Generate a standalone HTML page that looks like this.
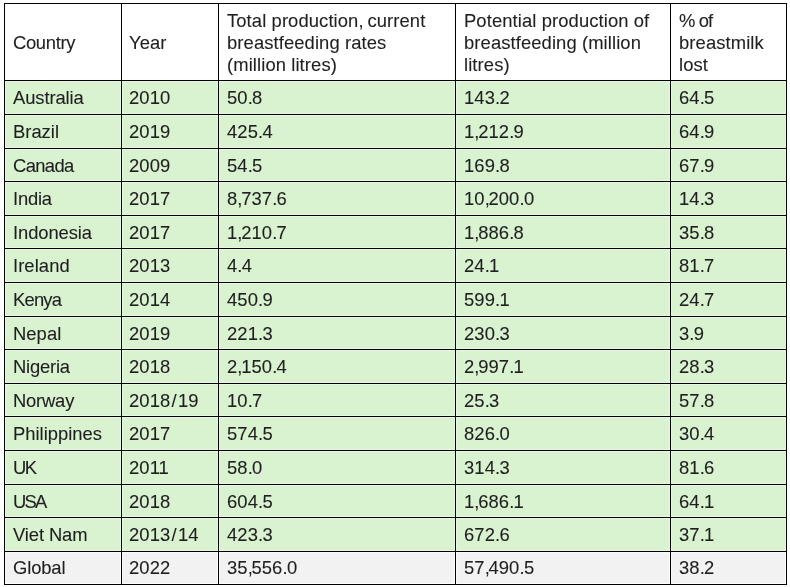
<!DOCTYPE html>
<html><head><meta charset="utf-8"><style>
html,body{margin:0;padding:0;background:#fff;}
body{width:790px;height:587px;position:relative;overflow:hidden;}
.c,.l,.t{position:absolute;}
.l{background:#000;}
.t{font-family:"Liberation Sans",sans-serif;font-size:18.4px;line-height:20px;color:#1f1f1f;white-space:pre;will-change:transform;-webkit-text-stroke:0.1px #1f1f1f;letter-spacing:0.1px;}
.t i{font-style:normal;}
.cm{letter-spacing:-1.3px;}
.pm{letter-spacing:-0.7px;}
.sl{padding:0 1.25px;}
</style></head><body>
<div class="c" style="left:5px;top:81px;width:116px;height:33px;background:#d9f2d0;box-shadow:inset 0 0 0 1px #e6f8df"></div>
<div class="c" style="left:122px;top:81px;width:96px;height:33px;background:#d9f2d0;box-shadow:inset 0 0 0 1px #e6f8df"></div>
<div class="c" style="left:219px;top:81px;width:236px;height:33px;background:#d9f2d0;box-shadow:inset 0 0 0 1px #e6f8df"></div>
<div class="c" style="left:456px;top:81px;width:214px;height:33px;background:#d9f2d0;box-shadow:inset 0 0 0 1px #e6f8df"></div>
<div class="c" style="left:671px;top:81px;width:115px;height:33px;background:#d9f2d0;box-shadow:inset 0 0 0 1px #e6f8df"></div>
<div class="c" style="left:5px;top:115px;width:116px;height:33px;background:#d9f2d0;box-shadow:inset 0 0 0 1px #e6f8df"></div>
<div class="c" style="left:122px;top:115px;width:96px;height:33px;background:#d9f2d0;box-shadow:inset 0 0 0 1px #e6f8df"></div>
<div class="c" style="left:219px;top:115px;width:236px;height:33px;background:#d9f2d0;box-shadow:inset 0 0 0 1px #e6f8df"></div>
<div class="c" style="left:456px;top:115px;width:214px;height:33px;background:#d9f2d0;box-shadow:inset 0 0 0 1px #e6f8df"></div>
<div class="c" style="left:671px;top:115px;width:115px;height:33px;background:#d9f2d0;box-shadow:inset 0 0 0 1px #e6f8df"></div>
<div class="c" style="left:5px;top:149px;width:116px;height:32px;background:#d9f2d0;box-shadow:inset 0 0 0 1px #e6f8df"></div>
<div class="c" style="left:122px;top:149px;width:96px;height:32px;background:#d9f2d0;box-shadow:inset 0 0 0 1px #e6f8df"></div>
<div class="c" style="left:219px;top:149px;width:236px;height:32px;background:#d9f2d0;box-shadow:inset 0 0 0 1px #e6f8df"></div>
<div class="c" style="left:456px;top:149px;width:214px;height:32px;background:#d9f2d0;box-shadow:inset 0 0 0 1px #e6f8df"></div>
<div class="c" style="left:671px;top:149px;width:115px;height:32px;background:#d9f2d0;box-shadow:inset 0 0 0 1px #e6f8df"></div>
<div class="c" style="left:5px;top:182px;width:116px;height:33px;background:#d9f2d0;box-shadow:inset 0 0 0 1px #e6f8df"></div>
<div class="c" style="left:122px;top:182px;width:96px;height:33px;background:#d9f2d0;box-shadow:inset 0 0 0 1px #e6f8df"></div>
<div class="c" style="left:219px;top:182px;width:236px;height:33px;background:#d9f2d0;box-shadow:inset 0 0 0 1px #e6f8df"></div>
<div class="c" style="left:456px;top:182px;width:214px;height:33px;background:#d9f2d0;box-shadow:inset 0 0 0 1px #e6f8df"></div>
<div class="c" style="left:671px;top:182px;width:115px;height:33px;background:#d9f2d0;box-shadow:inset 0 0 0 1px #e6f8df"></div>
<div class="c" style="left:5px;top:216px;width:116px;height:32px;background:#d9f2d0;box-shadow:inset 0 0 0 1px #e6f8df"></div>
<div class="c" style="left:122px;top:216px;width:96px;height:32px;background:#d9f2d0;box-shadow:inset 0 0 0 1px #e6f8df"></div>
<div class="c" style="left:219px;top:216px;width:236px;height:32px;background:#d9f2d0;box-shadow:inset 0 0 0 1px #e6f8df"></div>
<div class="c" style="left:456px;top:216px;width:214px;height:32px;background:#d9f2d0;box-shadow:inset 0 0 0 1px #e6f8df"></div>
<div class="c" style="left:671px;top:216px;width:115px;height:32px;background:#d9f2d0;box-shadow:inset 0 0 0 1px #e6f8df"></div>
<div class="c" style="left:5px;top:249px;width:116px;height:33px;background:#d9f2d0;box-shadow:inset 0 0 0 1px #e6f8df"></div>
<div class="c" style="left:122px;top:249px;width:96px;height:33px;background:#d9f2d0;box-shadow:inset 0 0 0 1px #e6f8df"></div>
<div class="c" style="left:219px;top:249px;width:236px;height:33px;background:#d9f2d0;box-shadow:inset 0 0 0 1px #e6f8df"></div>
<div class="c" style="left:456px;top:249px;width:214px;height:33px;background:#d9f2d0;box-shadow:inset 0 0 0 1px #e6f8df"></div>
<div class="c" style="left:671px;top:249px;width:115px;height:33px;background:#d9f2d0;box-shadow:inset 0 0 0 1px #e6f8df"></div>
<div class="c" style="left:5px;top:283px;width:116px;height:33px;background:#d9f2d0;box-shadow:inset 0 0 0 1px #e6f8df"></div>
<div class="c" style="left:122px;top:283px;width:96px;height:33px;background:#d9f2d0;box-shadow:inset 0 0 0 1px #e6f8df"></div>
<div class="c" style="left:219px;top:283px;width:236px;height:33px;background:#d9f2d0;box-shadow:inset 0 0 0 1px #e6f8df"></div>
<div class="c" style="left:456px;top:283px;width:214px;height:33px;background:#d9f2d0;box-shadow:inset 0 0 0 1px #e6f8df"></div>
<div class="c" style="left:671px;top:283px;width:115px;height:33px;background:#d9f2d0;box-shadow:inset 0 0 0 1px #e6f8df"></div>
<div class="c" style="left:5px;top:317px;width:116px;height:32px;background:#d9f2d0;box-shadow:inset 0 0 0 1px #e6f8df"></div>
<div class="c" style="left:122px;top:317px;width:96px;height:32px;background:#d9f2d0;box-shadow:inset 0 0 0 1px #e6f8df"></div>
<div class="c" style="left:219px;top:317px;width:236px;height:32px;background:#d9f2d0;box-shadow:inset 0 0 0 1px #e6f8df"></div>
<div class="c" style="left:456px;top:317px;width:214px;height:32px;background:#d9f2d0;box-shadow:inset 0 0 0 1px #e6f8df"></div>
<div class="c" style="left:671px;top:317px;width:115px;height:32px;background:#d9f2d0;box-shadow:inset 0 0 0 1px #e6f8df"></div>
<div class="c" style="left:5px;top:350px;width:116px;height:33px;background:#d9f2d0;box-shadow:inset 0 0 0 1px #e6f8df"></div>
<div class="c" style="left:122px;top:350px;width:96px;height:33px;background:#d9f2d0;box-shadow:inset 0 0 0 1px #e6f8df"></div>
<div class="c" style="left:219px;top:350px;width:236px;height:33px;background:#d9f2d0;box-shadow:inset 0 0 0 1px #e6f8df"></div>
<div class="c" style="left:456px;top:350px;width:214px;height:33px;background:#d9f2d0;box-shadow:inset 0 0 0 1px #e6f8df"></div>
<div class="c" style="left:671px;top:350px;width:115px;height:33px;background:#d9f2d0;box-shadow:inset 0 0 0 1px #e6f8df"></div>
<div class="c" style="left:5px;top:384px;width:116px;height:32px;background:#d9f2d0;box-shadow:inset 0 0 0 1px #e6f8df"></div>
<div class="c" style="left:122px;top:384px;width:96px;height:32px;background:#d9f2d0;box-shadow:inset 0 0 0 1px #e6f8df"></div>
<div class="c" style="left:219px;top:384px;width:236px;height:32px;background:#d9f2d0;box-shadow:inset 0 0 0 1px #e6f8df"></div>
<div class="c" style="left:456px;top:384px;width:214px;height:32px;background:#d9f2d0;box-shadow:inset 0 0 0 1px #e6f8df"></div>
<div class="c" style="left:671px;top:384px;width:115px;height:32px;background:#d9f2d0;box-shadow:inset 0 0 0 1px #e6f8df"></div>
<div class="c" style="left:5px;top:417px;width:116px;height:33px;background:#d9f2d0;box-shadow:inset 0 0 0 1px #e6f8df"></div>
<div class="c" style="left:122px;top:417px;width:96px;height:33px;background:#d9f2d0;box-shadow:inset 0 0 0 1px #e6f8df"></div>
<div class="c" style="left:219px;top:417px;width:236px;height:33px;background:#d9f2d0;box-shadow:inset 0 0 0 1px #e6f8df"></div>
<div class="c" style="left:456px;top:417px;width:214px;height:33px;background:#d9f2d0;box-shadow:inset 0 0 0 1px #e6f8df"></div>
<div class="c" style="left:671px;top:417px;width:115px;height:33px;background:#d9f2d0;box-shadow:inset 0 0 0 1px #e6f8df"></div>
<div class="c" style="left:5px;top:451px;width:116px;height:33px;background:#d9f2d0;box-shadow:inset 0 0 0 1px #e6f8df"></div>
<div class="c" style="left:122px;top:451px;width:96px;height:33px;background:#d9f2d0;box-shadow:inset 0 0 0 1px #e6f8df"></div>
<div class="c" style="left:219px;top:451px;width:236px;height:33px;background:#d9f2d0;box-shadow:inset 0 0 0 1px #e6f8df"></div>
<div class="c" style="left:456px;top:451px;width:214px;height:33px;background:#d9f2d0;box-shadow:inset 0 0 0 1px #e6f8df"></div>
<div class="c" style="left:671px;top:451px;width:115px;height:33px;background:#d9f2d0;box-shadow:inset 0 0 0 1px #e6f8df"></div>
<div class="c" style="left:5px;top:485px;width:116px;height:32px;background:#d9f2d0;box-shadow:inset 0 0 0 1px #e6f8df"></div>
<div class="c" style="left:122px;top:485px;width:96px;height:32px;background:#d9f2d0;box-shadow:inset 0 0 0 1px #e6f8df"></div>
<div class="c" style="left:219px;top:485px;width:236px;height:32px;background:#d9f2d0;box-shadow:inset 0 0 0 1px #e6f8df"></div>
<div class="c" style="left:456px;top:485px;width:214px;height:32px;background:#d9f2d0;box-shadow:inset 0 0 0 1px #e6f8df"></div>
<div class="c" style="left:671px;top:485px;width:115px;height:32px;background:#d9f2d0;box-shadow:inset 0 0 0 1px #e6f8df"></div>
<div class="c" style="left:5px;top:518px;width:116px;height:33px;background:#d9f2d0;box-shadow:inset 0 0 0 1px #e6f8df"></div>
<div class="c" style="left:122px;top:518px;width:96px;height:33px;background:#d9f2d0;box-shadow:inset 0 0 0 1px #e6f8df"></div>
<div class="c" style="left:219px;top:518px;width:236px;height:33px;background:#d9f2d0;box-shadow:inset 0 0 0 1px #e6f8df"></div>
<div class="c" style="left:456px;top:518px;width:214px;height:33px;background:#d9f2d0;box-shadow:inset 0 0 0 1px #e6f8df"></div>
<div class="c" style="left:671px;top:518px;width:115px;height:33px;background:#d9f2d0;box-shadow:inset 0 0 0 1px #e6f8df"></div>
<div class="c" style="left:5px;top:552px;width:116px;height:32px;background:#f2f2f2;box-shadow:inset -1px -1px 0 #fff, inset 1px 1px 0 #f9f9f9"></div>
<div class="c" style="left:122px;top:552px;width:96px;height:32px;background:#f2f2f2;box-shadow:inset -1px -1px 0 #fff, inset 1px 1px 0 #f9f9f9"></div>
<div class="c" style="left:219px;top:552px;width:236px;height:32px;background:#f2f2f2;box-shadow:inset -1px -1px 0 #fff, inset 1px 1px 0 #f9f9f9"></div>
<div class="c" style="left:456px;top:552px;width:214px;height:32px;background:#f2f2f2;box-shadow:inset -1px -1px 0 #fff, inset 1px 1px 0 #f9f9f9"></div>
<div class="c" style="left:671px;top:552px;width:115px;height:32px;background:#f2f2f2;box-shadow:inset -1px -1px 0 #fff, inset 1px 1px 0 #f9f9f9"></div>
<div class="l" style="left:4px;top:3px;width:783px;height:1px"></div>
<div class="l" style="left:4px;top:80px;width:783px;height:1px"></div>
<div class="l" style="left:4px;top:114px;width:783px;height:1px"></div>
<div class="l" style="left:4px;top:148px;width:783px;height:1px"></div>
<div class="l" style="left:4px;top:181px;width:783px;height:1px"></div>
<div class="l" style="left:4px;top:215px;width:783px;height:1px"></div>
<div class="l" style="left:4px;top:248px;width:783px;height:1px"></div>
<div class="l" style="left:4px;top:282px;width:783px;height:1px"></div>
<div class="l" style="left:4px;top:316px;width:783px;height:1px"></div>
<div class="l" style="left:4px;top:349px;width:783px;height:1px"></div>
<div class="l" style="left:4px;top:383px;width:783px;height:1px"></div>
<div class="l" style="left:4px;top:416px;width:783px;height:1px"></div>
<div class="l" style="left:4px;top:450px;width:783px;height:1px"></div>
<div class="l" style="left:4px;top:484px;width:783px;height:1px"></div>
<div class="l" style="left:4px;top:517px;width:783px;height:1px"></div>
<div class="l" style="left:4px;top:551px;width:783px;height:1px"></div>
<div class="l" style="left:4px;top:584px;width:783px;height:1px"></div>
<div class="l" style="left:4px;top:3px;width:1px;height:582px"></div>
<div class="l" style="left:121px;top:3px;width:1px;height:582px"></div>
<div class="l" style="left:218px;top:3px;width:1px;height:582px"></div>
<div class="l" style="left:455px;top:3px;width:1px;height:582px"></div>
<div class="l" style="left:670px;top:3px;width:1px;height:582px"></div>
<div class="l" style="left:786px;top:3px;width:1px;height:582px"></div>
<div class="t" style="left:12.5px;top:32.62px;letter-spacing:-0.32px">Country</div>
<div class="t" style="left:129px;top:32.62px">Year</div>
<div class="t" style="left:227px;top:10.62px">Total production<i class="cm">,</i> current</div>
<div class="t" style="left:227px;top:32.62px">breastfeeding rates</div>
<div class="t" style="left:227px;top:54.62px">(million litres)</div>
<div class="t" style="left:464px;top:10.62px">Potential production of</div>
<div class="t" style="left:464px;top:32.62px">breastfeeding (million</div>
<div class="t" style="left:464px;top:54.62px">litres)</div>
<div class="t" style="left:679px;top:10.62px;letter-spacing:-0.90px">% of</div>
<div class="t" style="left:679px;top:32.62px">breastmilk</div>
<div class="t" style="left:679px;top:54.62px">lost</div>
<div class="t" style="left:12.5px;top:87.62px;letter-spacing:-0.09px">Australia</div>
<div class="t" style="left:129px;top:87.62px">2010</div>
<div class="t" style="left:227px;top:87.62px">50<i class="pm">.</i>8</div>
<div class="t" style="left:464px;top:87.62px">143<i class="pm">.</i>2</div>
<div class="t" style="left:679px;top:87.62px">64<i class="pm">.</i>5</div>
<div class="t" style="left:12.5px;top:121.62px;letter-spacing:0.00px">Brazil</div>
<div class="t" style="left:129px;top:121.62px">2019</div>
<div class="t" style="left:227px;top:121.62px">425<i class="pm">.</i>4</div>
<div class="t" style="left:464px;top:121.62px">1<i class="cm">,</i>212<i class="pm">.</i>9</div>
<div class="t" style="left:679px;top:121.62px">64<i class="pm">.</i>9</div>
<div class="t" style="left:12.5px;top:155.62px;letter-spacing:-0.64px">Canada</div>
<div class="t" style="left:129px;top:155.62px">2009</div>
<div class="t" style="left:227px;top:155.62px">54<i class="pm">.</i>5</div>
<div class="t" style="left:464px;top:155.62px">169<i class="pm">.</i>8</div>
<div class="t" style="left:679px;top:155.62px">67<i class="pm">.</i>9</div>
<div class="t" style="left:12.5px;top:188.62px;letter-spacing:-0.20px">India</div>
<div class="t" style="left:129px;top:188.62px">2017</div>
<div class="t" style="left:227px;top:188.62px">8<i class="cm">,</i>737<i class="pm">.</i>6</div>
<div class="t" style="left:464px;top:188.62px">10<i class="cm">,</i>200<i class="pm">.</i>0</div>
<div class="t" style="left:679px;top:188.62px">14<i class="pm">.</i>3</div>
<div class="t" style="left:12.5px;top:222.62px;letter-spacing:-0.09px">Indonesia</div>
<div class="t" style="left:129px;top:222.62px">2017</div>
<div class="t" style="left:227px;top:222.62px">1<i class="cm">,</i>210<i class="pm">.</i>7</div>
<div class="t" style="left:464px;top:222.62px">1<i class="cm">,</i>886<i class="pm">.</i>8</div>
<div class="t" style="left:679px;top:222.62px">35<i class="pm">.</i>8</div>
<div class="t" style="left:12.5px;top:255.62px;letter-spacing:0.07px">Ireland</div>
<div class="t" style="left:129px;top:255.62px">2013</div>
<div class="t" style="left:227px;top:255.62px">4<i class="pm">.</i>4</div>
<div class="t" style="left:464px;top:255.62px">24<i class="pm">.</i>1</div>
<div class="t" style="left:679px;top:255.62px">81<i class="pm">.</i>7</div>
<div class="t" style="left:12.5px;top:289.62px;letter-spacing:-0.80px">Kenya</div>
<div class="t" style="left:129px;top:289.62px">2014</div>
<div class="t" style="left:227px;top:289.62px">450<i class="pm">.</i>9</div>
<div class="t" style="left:464px;top:289.62px">599<i class="pm">.</i>1</div>
<div class="t" style="left:679px;top:289.62px">24<i class="pm">.</i>7</div>
<div class="t" style="left:12.5px;top:323.62px;letter-spacing:0.05px">Nepal</div>
<div class="t" style="left:129px;top:323.62px">2019</div>
<div class="t" style="left:227px;top:323.62px">221<i class="pm">.</i>3</div>
<div class="t" style="left:464px;top:323.62px">230<i class="pm">.</i>3</div>
<div class="t" style="left:679px;top:323.62px">3<i class="pm">.</i>9</div>
<div class="t" style="left:12.5px;top:356.62px;letter-spacing:-0.20px">Nigeria</div>
<div class="t" style="left:129px;top:356.62px">2018</div>
<div class="t" style="left:227px;top:356.62px">2<i class="cm">,</i>150<i class="pm">.</i>4</div>
<div class="t" style="left:464px;top:356.62px">2<i class="cm">,</i>997<i class="pm">.</i>1</div>
<div class="t" style="left:679px;top:356.62px">28<i class="pm">.</i>3</div>
<div class="t" style="left:12.5px;top:390.62px;letter-spacing:-0.20px">Norway</div>
<div class="t" style="left:129px;top:390.62px">2018<i class="sl">/</i>19</div>
<div class="t" style="left:227px;top:390.62px">10<i class="pm">.</i>7</div>
<div class="t" style="left:464px;top:390.62px">25<i class="pm">.</i>3</div>
<div class="t" style="left:679px;top:390.62px">57<i class="pm">.</i>8</div>
<div class="t" style="left:12.5px;top:423.62px;letter-spacing:0.00px">Philippines</div>
<div class="t" style="left:129px;top:423.62px">2017</div>
<div class="t" style="left:227px;top:423.62px">574<i class="pm">.</i>5</div>
<div class="t" style="left:464px;top:423.62px">826<i class="pm">.</i>0</div>
<div class="t" style="left:679px;top:423.62px">30<i class="pm">.</i>4</div>
<div class="t" style="left:12.5px;top:457.62px;letter-spacing:-1.50px">UK</div>
<div class="t" style="left:129px;top:457.62px">2011</div>
<div class="t" style="left:227px;top:457.62px">58<i class="pm">.</i>0</div>
<div class="t" style="left:464px;top:457.62px">314<i class="pm">.</i>3</div>
<div class="t" style="left:679px;top:457.62px">81<i class="pm">.</i>6</div>
<div class="t" style="left:12.5px;top:491.62px;letter-spacing:-1.75px">USA</div>
<div class="t" style="left:129px;top:491.62px">2018</div>
<div class="t" style="left:227px;top:491.62px">604<i class="pm">.</i>5</div>
<div class="t" style="left:464px;top:491.62px">1<i class="cm">,</i>686<i class="pm">.</i>1</div>
<div class="t" style="left:679px;top:491.62px">64<i class="pm">.</i>1</div>
<div class="t" style="left:12.5px;top:524.62px;letter-spacing:-0.11px">Viet Nam</div>
<div class="t" style="left:129px;top:524.62px">2013<i class="sl">/</i>14</div>
<div class="t" style="left:227px;top:524.62px">423<i class="pm">.</i>3</div>
<div class="t" style="left:464px;top:524.62px">672<i class="pm">.</i>6</div>
<div class="t" style="left:679px;top:524.62px">37<i class="pm">.</i>1</div>
<div class="t" style="left:12.5px;top:557.62px;letter-spacing:-0.12px">Global</div>
<div class="t" style="left:129px;top:557.62px">2022</div>
<div class="t" style="left:227px;top:557.62px">35<i class="cm">,</i>556<i class="pm">.</i>0</div>
<div class="t" style="left:464px;top:557.62px">57<i class="cm">,</i>490<i class="pm">.</i>5</div>
<div class="t" style="left:679px;top:557.62px">38<i class="pm">.</i>2</div>
</body></html>
